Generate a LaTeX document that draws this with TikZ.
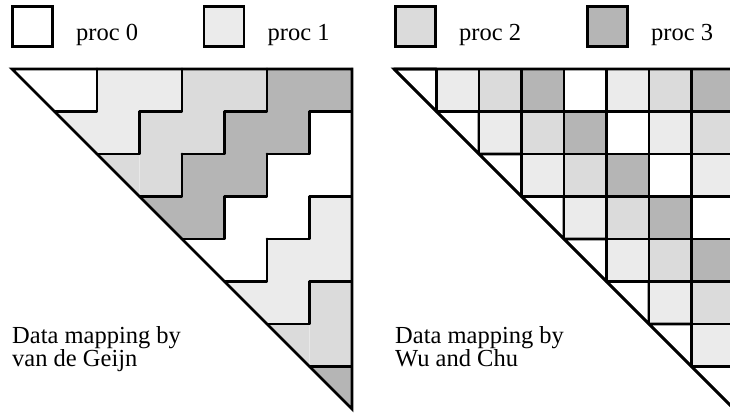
\documentclass[tikz,border=0pt]{standalone}
\usepackage{fontspec}
\setmainfont{Liberation Serif}

\colorlet{proc0}{white}
\colorlet{proc1}{black!8}
\colorlet{proc2}{black!14}
\colorlet{proc3}{black!29}

\begin{document}
\begin{tikzpicture}[x=1pt,y=-1pt,font=\fontsize{24.5}{23}\selectfont,
  rule/.style={line width=2.7pt},
  keybox/.style={draw,rule,minimum size=40pt,inner sep=0pt},
  keytext/.style={anchor=base west,inner sep=0pt},
  caption/.style={anchor=north west,align=left,inner sep=0pt}]
\useasboundingbox (0,0) rectangle (730,414);

% legend
\foreach \p/\xc in {0/32.5,1/224,2/415.5,3/607.5}{
  \node[keybox,fill=proc\p] (key\p) at (\xc,26.5) {};
  \node[keytext] (lab\p) at (\xc+43.5,41) {proc \p};
}

% van de Geijn: staircases of width 2
\begin{scope}[shift={(12,69)},x=42.5pt,y=-42.5pt]
\foreach \i in {0,...,7}{
  \foreach \j in {\i,...,7}{
    \pgfmathtruncatemacro\own{floor(mod(\i+\j,8)/2)}
    \ifnum\j=\i
      \fill[proc\own] (\j,\i) -- (\j+1,\i) -- (\j+1,\i+1) -- cycle;
    \else
      \fill[proc\own] (\j,\i) rectangle (\j+1,\i+1);
    \fi
  }
}
\foreach \i in {0,...,6}{
  \foreach \j in {\i,...,7}{
    \pgfmathtruncatemacro\odd{mod(\i+\j,2)}
    \ifnum\odd=1
      \draw[rule,line cap=round,line join=round] (\j,\i+1) -- (\j+1,\i+1) -- (\j+1,\i);
    \fi
  }
}
\draw[rule] (0,0) -- (8,0) -- (8,8) -- cycle;
\end{scope}

% Wu and Chu: cyclic by diagonals
\begin{scope}
\clip (0,0) rectangle (730,414);
\begin{scope}[shift={(394,69)},x=42.5pt,y=-42.5pt]
\foreach \i in {0,...,7}{
  \foreach \j in {\i,...,7}{
    \pgfmathtruncatemacro\own{mod(\j-\i,4)}
    \ifnum\j=\i
      \filldraw[fill=proc\own,rule,line join=round] (\j,\i) -- (\j+1,\i) -- (\j+1,\i+1) -- cycle;
    \else
      \filldraw[fill=proc\own,rule,line join=round] (\j,\i) rectangle (\j+1,\i+1);
    \fi
  }
}
\draw[rule] (0,0) -- (8,0) -- (8,8) -- cycle;
\end{scope}
\end{scope}

\node[caption] (capl) at (12,326) {Data mapping by\\van de Geijn};
\node[caption] (capr) at (395,326) {Data mapping by\\Wu and Chu};
\end{tikzpicture}
\end{document}
